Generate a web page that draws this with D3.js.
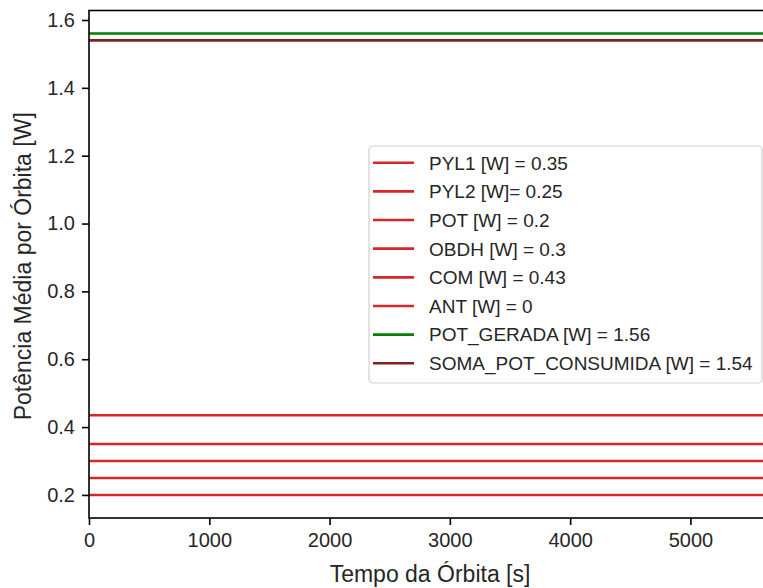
<!DOCTYPE html>
<html><head><meta charset="utf-8">
<script src="https://cdn.jsdelivr.net/npm/d3@7"></script>
<style>
html,body{margin:0;padding:0;background:#fff;}
svg{display:block;font-family:"Liberation Sans",Arial,sans-serif;}
</style></head>
<body>
<svg id="chart" width="763" height="588"></svg>
<script>
const labels = ["PYL1 [W] = 0.35","PYL2 [W]= 0.25","POT [W] = 0.2","OBDH [W] = 0.3","COM [W] = 0.43","ANT [W] = 0","POT_GERADA [W] = 1.56","SOMA_POT_CONSUMIDA [W] = 1.54"];
const values = [0.35, 0.25, 0.2, 0.3, 0.435, 0, 1.56, 1.54];
const colors = ["#d62728","#d62728","#d62728","#d62728","#d62728","#d62728","#008000","#802020"];
const time = [0, 5620];
const xTicks = [0,1000,2000,3000,4000,5000];
const yTicks = [0.2,0.4,0.6,0.8,1.0,1.2,1.4,1.6];
const xDomain = [0, 5620];
const yDomain = [0.132, 1.628];

const svg = d3.select("#chart");
const L = 89, R = 765, T = 10.5, B = 518;
const x = d3.scaleLinear().domain(xDomain).range([L, R]);
const y = d3.scaleLinear().domain(yDomain).range([B, T]);

svg.append("defs").append("clipPath").attr("id","clip")
  .append("rect").attr("x",L).attr("y",T).attr("width",R-L).attr("height",B-T);

const line = d3.line().x(d=>x(d[0])).y(d=>y(d[1]));
const g = svg.append("g").attr("clip-path","url(#clip)");
values.forEach((v,i)=>{
  g.append("path").datum(time.map(t=>[t,v]))
    .attr("d",line).attr("fill","none").attr("stroke",colors[i]).attr("stroke-width",2.6);
});

// axes
const xAxis = svg.append("g").attr("transform",`translate(0,${B})`)
  .call(d3.axisBottom(x).tickValues(xTicks).tickFormat(d3.format("d")).tickSize(7).tickPadding(8));
const yAxis = svg.append("g").attr("transform",`translate(${L},0)`)
  .call(d3.axisLeft(y).tickValues(yTicks).tickFormat(d3.format(".1f")).tickSize(7).tickPadding(7));
[xAxis,yAxis].forEach(a=>{
  a.select(".domain").remove();
  a.selectAll(".tick line").attr("stroke","#000").attr("stroke-width",1.6);
  a.selectAll(".tick text").attr("fill","#262626").style("font-size","20px").style("font-family","Liberation Sans, Arial, sans-serif");
});
// spines
svg.append("rect").attr("x",L).attr("y",T).attr("width",R-L).attr("height",B-T)
  .attr("fill","none").attr("stroke","#000").attr("stroke-width",1.6);

// axis labels
svg.append("text").attr("x",(L+R)/2+3).attr("y",582).attr("text-anchor","middle")
  .attr("fill","#262626").style("font-size","23px").text("Tempo da Órbita [s]");
svg.append("text").attr("transform",`translate(31,${(T+B)/2+2}) rotate(-90)`).attr("text-anchor","middle")
  .attr("fill","#262626").style("font-size","23px").text("Potência Média por Órbita [W]");

// legend
const lg = svg.append("g");
lg.append("rect").attr("x",369).attr("y",146).attr("width",393).attr("height",237)
  .attr("rx",4).attr("fill","#fff").attr("fill-opacity",0.8).attr("stroke","#d0d0d0").attr("stroke-width",1.2);
const rowY = d3.scaleLinear().domain([0,7]).range([162.7,363.3]);
labels.forEach((lab,i)=>{
  const yy = rowY(i);
  lg.append("line").attr("x1",373).attr("x2",414).attr("y1",yy).attr("y2",yy)
    .attr("stroke",colors[i]).attr("stroke-width",2.6);
  lg.append("text").attr("x",429).attr("y",yy).attr("dy","0.36em")
    .attr("fill","#262626").style("font-size","19px").text(lab);
});
</script>
</body></html>
